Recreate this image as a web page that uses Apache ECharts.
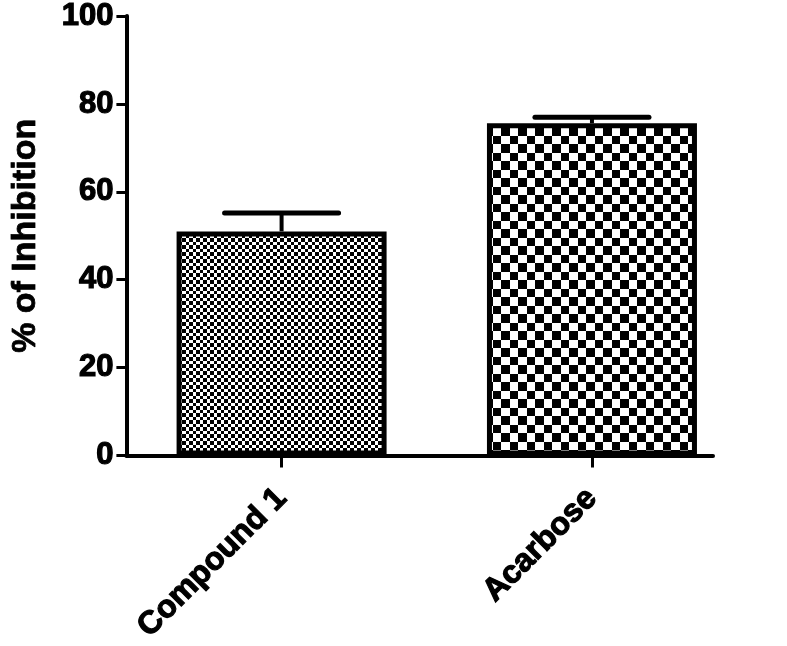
<!DOCTYPE html>
<html>
<head>
<meta charset="utf-8">
<script src="https://cdn.jsdelivr.net/npm/echarts@6/dist/echarts.min.js"></script>
<style>
html,body{margin:0;padding:0;background:#fff;}
#chart{width:787px;height:646px;}
</style>
</head>
<body>
<div id="chart"></div>
<script>
// ---- data ----
const categories = ['Compound 1', 'Acarbose'];
const meanValues = [51, 75.6];
const upperErrorValues = [55.2, 77];
const yMin = 0, yMax = 100, yStep = 20;

// ---- checkerboard fills ----
function checker(cellA, cellB) {
  const size = cellA + cellB;
  const c = document.createElement('canvas');
  c.width = size; c.height = size;
  const g = c.getContext('2d');
  g.fillStyle = '#fff'; g.fillRect(0, 0, size, size);
  g.fillStyle = '#000';
  g.fillRect(0, 0, cellA, cellA);
  g.fillRect(cellA, cellA, cellB, cellB);
  return c;
}
const fills = [
  { image: checker(4, 3), repeat: 'repeat' },
  { image: checker(8, 9), repeat: 'repeat' }
];

const barData = categories.map((c, i) => ({
  value: [i, meanValues[i]],
  itemStyle: { color: fills[i] }
}));
const errData = categories.map((c, i) => [i, meanValues[i], upperErrorValues[i]]);

const font = 'Liberation Sans, Arial, sans-serif';
const heavy = { color: '#000', fontFamily: font, fontWeight: 'bold', textBorderColor: '#000', textBorderWidth: 1.2 };
const chart = echarts.init(document.getElementById('chart'));
chart.setOption({
  animation: false,
  grid: { left: 120, top: 15, width: 593, height: 442, containLabel: false },
  xAxis: {
    type: 'value',
    min: -0.5, max: 1.39,
    splitLine: { show: false },
    axisLine: { show: true, lineStyle: { color: '#000', width: 4 } },
    axisTick: { show: true, customValues: [0, 1], length: 12, lineStyle: { color: '#000', width: 3 } },
    axisLabel: Object.assign({
      customValues: [0, 1],
      rotate: 45,
      margin: 38,
      formatter: v => categories[Math.round(v)] || '',
      fontSize: 32
    }, heavy)
  },
  yAxis: {
    type: 'value',
    min: yMin, max: yMax, interval: yStep,
    splitLine: { show: false },
    axisLine: { show: true, onZero: false, lineStyle: { color: '#000', width: 4 } },
    axisTick: { show: true, length: 10, lineStyle: { color: '#000', width: 3 } },
    axisLabel: Object.assign({ margin: 13, fontSize: 31 }, heavy),
    name: '% of Inhibition',
    nameLocation: 'middle',
    nameGap: 84,
    nameTextStyle: { color: '#000', fontFamily: font, fontWeight: 'bold', fontSize: 34, textBorderColor: '#000', textBorderWidth: 0.8 }
  },
  series: [
    {
      type: 'bar',
      barWidth: 210,
      data: barData,
      itemStyle: { borderColor: '#000', borderWidth: 5 },
      z: 2
    },
    {
      type: 'custom',
      data: errData,
      z: 3,
      renderItem: function (params, api) {
        const x = api.value(0);
        const base = api.coord([x, api.value(1)]);
        const top = api.coord([x, api.value(2)]);
        const half = 57;
        return {
          type: 'group',
          children: [
            { type: 'line', shape: { x1: top[0], y1: base[1], x2: top[0], y2: top[1] }, style: { stroke: '#000', lineWidth: 4 } },
            { type: 'line', shape: { x1: top[0] - half, y1: top[1], x2: top[0] + half, y2: top[1] }, style: { stroke: '#000', lineWidth: 5, lineCap: 'round' } }
          ]
        };
      }
    }
  ]
});
</script>
</body>
</html>
